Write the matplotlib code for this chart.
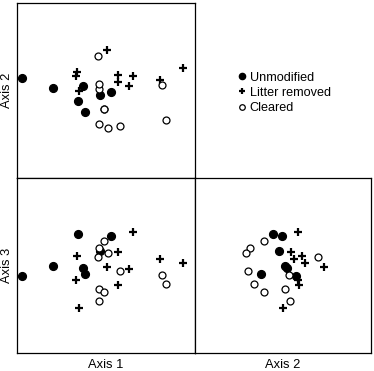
import matplotlib
matplotlib.use('Agg')
import numpy as np
import matplotlib.pyplot as plt

plt.rcParams['font.family'] = ['Liberation Sans', 'DejaVu Sans']

# ordination scores (axis 1, 2, 3)
unmod_ax1 = [-8.43, -5.27, -2.83, -2.33, -2.13, -0.63, 0.50]
unmod_ax2 = [1.28, 0.24, -0.98, 0.46, -2.14, -0.42, -0.10]
unmod_ax3 = [-1.05, -0.07, 3.13, -0.22, -0.87, 1.43, 2.97]

litter_ax1 = [0.13, -2.90, -2.97, -2.70, 1.17, 2.67, 1.17, 2.25, 5.37, 7.73]
litter_ax2 = [4.08, 1.88, 1.48, 0.00, 1.59, 1.48, 0.86, 0.45, 1.13, 2.24]
litter_ax3 = [-0.10, 0.95, -1.48, -4.27, -1.95, 3.40, 1.35, -0.35, 0.63, 0.25]

clear_ax1 = [-0.17, -0.67, 0.20, -0.77, 1.37, 5.63, 6.03, -0.67, -0.23, -0.67]
clear_ax2 = [-1.86, -3.28, -3.68, 3.49, -3.49, 0.61, -2.89, 0.22, -1.86, 0.72]
clear_ax3 = [2.45, 1.80, 1.27, 0.90, -0.54, -0.97, -1.85, -2.34, -2.65, -3.57]

groups = ["Unmodified", "Litter removed", "Cleared"]

lim1 = (-8.9, 8.9)
lim2 = (-8.75, 8.8)
lim3 = (-8.75, 8.75)

fig = plt.figure(figsize=(3.74, 3.71), dpi=100)
ax_a = fig.add_axes([0.0455, 0.520, 0.476, 0.4717])
ax_b = fig.add_axes([0.0455, 0.0485, 0.476, 0.4717])
ax_c = fig.add_axes([0.5214, 0.0485, 0.4706, 0.4717])


def draw(ax, x_u, y_u, x_l, y_l, x_c, y_c):
    h1, = ax.plot(x_u, y_u, 'o', color='black', markersize=5.6, linestyle='None', label=groups[0])
    h2, = ax.plot(x_l, y_l, '+', color='black', markersize=5.5, markeredgewidth=1.6, linestyle='None', label=groups[1])
    h3, = ax.plot(x_c, y_c, 'o', markerfacecolor='white', markeredgecolor='black', markersize=5.0,
                  markeredgewidth=0.9, linestyle='None', label=groups[2])
    ax.set_xticks([])
    ax.set_yticks([])
    for s in ax.spines.values():
        s.set_linewidth(0.9)
    return [h1, h2, h3]


handles = draw(ax_a, unmod_ax1, unmod_ax2, litter_ax1, litter_ax2, clear_ax1, clear_ax2)
ax_a.set_xlim(lim1)
ax_a.set_ylim(lim2)
ax_a.set_ylabel("Axis 2", fontsize=9.3, labelpad=3)

draw(ax_b, unmod_ax1, unmod_ax3, litter_ax1, litter_ax3, clear_ax1, clear_ax3)
ax_b.set_xlim(lim1)
ax_b.set_ylim(lim3)
ax_b.set_ylabel("Axis 3", fontsize=9.3, labelpad=3)
ax_b.set_xlabel("Axis 1", fontsize=9.3, labelpad=4)

draw(ax_c, unmod_ax2, unmod_ax3, litter_ax2, litter_ax3, clear_ax2, clear_ax3)
ax_c.set_xlim(lim2)
ax_c.set_ylim(lim3)
ax_c.set_xlabel("Axis 2", fontsize=9.3, labelpad=4)

fig.legend(handles=handles, loc='upper left', bbox_to_anchor=(0.62, 0.824), frameon=False,
           fontsize=9.1, markerscale=0.8, handlelength=0.6, handletextpad=0.3,
           labelspacing=0.25, borderpad=0)

fig.savefig("out.png", dpi=100)
plt.close()
